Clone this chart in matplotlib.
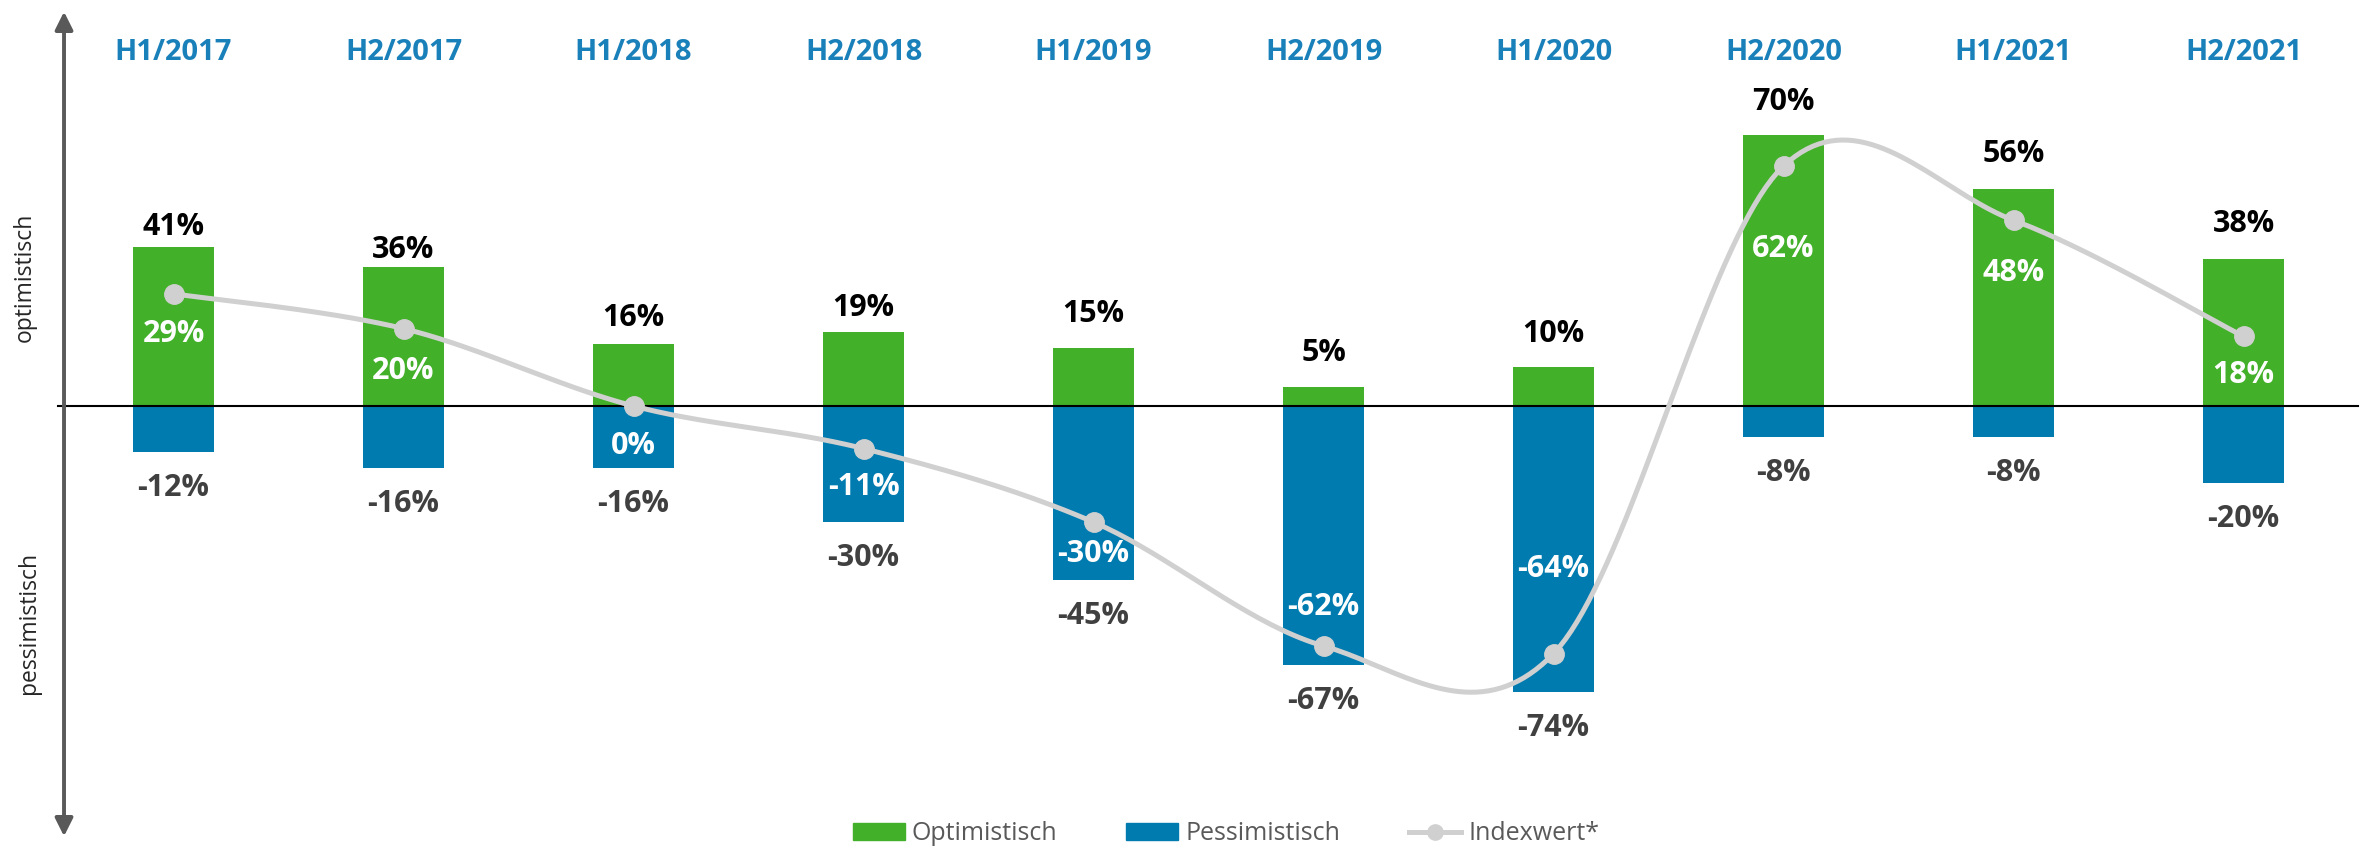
import numpy as np
import matplotlib
matplotlib.use("Agg")
import matplotlib.pyplot as plt
from matplotlib.patches import FancyArrowPatch, Patch
from matplotlib.lines import Line2D

plt.rcParams['font.family'] = ['Open Sans', 'DejaVu Sans']

# Daten
perioden = ["H1/2017", "H2/2017", "H1/2018", "H2/2018", "H1/2019",
            "H2/2019", "H1/2020", "H2/2020", "H1/2021", "H2/2021"]
optimistisch = [41, 36, 16, 19, 15, 5, 10, 70, 56, 38]
pessimistisch = [-12, -16, -16, -30, -45, -67, -74, -8, -8, -20]
indexwert = [29, 20, 0, -11, -30, -62, -64, 62, 48, 18]

# Label-Abstände (Pixel)
off_oben = [20, 17, 26, 24, 34, 34, 33, 33, 35, 35]
off_index = [-40, -42, -40, -38, -32, 39, 85, -83, -53, -39]
off_unten = -36

GRUEN = "#43B02A"
BLAU = "#007BB0"
LINIE = "#D0D0D0"
KAT = "#1A80BA"


def glatt(xs, ys, n=40):
    # Bezier-Glättung wie in Excel (Catmull-Rom)
    p = np.column_stack([xs, ys]).astype(float)
    p = np.vstack([p[0], p, p[-1]])
    out = []
    t = np.linspace(0, 1, n)[:, None]
    for i in range(1, len(p) - 2):
        p0, p1, p2, p3 = p[i - 1], p[i], p[i + 1], p[i + 2]
        c1 = p1 + (p2 - p0) / 6
        c2 = p2 - (p3 - p1) / 6
        seg = ((1 - t) ** 3) * p1 + 3 * ((1 - t) ** 2) * t * c1 + 3 * (1 - t) * t ** 2 * c2 + t ** 3 * p2
        out.append(seg if i == 1 else seg[1:])
    out = np.vstack(out)
    return out[:, 0], out[:, 1]


fig = plt.figure(figsize=(23.67, 8.48), dpi=100)
ax = fig.add_axes([0, 0, 1, 1])
ax.axis('off')
ax.set_xlim(-173.5 / 230, (2367 - 173.5) / 230)
ax.set_ylim(-442 / 3.87, 406 / 3.87)

x = np.arange(len(perioden))
b = 0.352
ax.bar(x, optimistisch, width=b, color=GRUEN, zorder=2)
ax.bar(x, pessimistisch, width=b, color=BLAU, zorder=2)

ax.plot([-0.502, 9.498], [0, 0], color='black', lw=1.5, zorder=3)

gx, gy = glatt(x, indexwert)
ax.plot(gx, gy, color=LINIE, lw=3.6, zorder=4, solid_capstyle='round')
ax.plot(x, indexwert, 'o', color=LINIE, ms=14, zorder=5)

pfeil = FancyArrowPatch((-0.476, -111.9), (-0.476, 102.6),
                        arrowstyle='<|-|>,head_length=0.6,head_width=0.3',
                        mutation_scale=18, color='#595959', lw=2.8, zorder=3)
ax.add_patch(pfeil)

for i in range(len(perioden)):
    ax.text(i, 1 - 52 / 848, perioden[i], transform=ax.get_xaxis_transform(),
            ha='center', va='center', fontsize=21, fontweight='bold', color=KAT)
    ax.annotate(f"{optimistisch[i]}%", (i, optimistisch[i]), xytext=(0, off_oben[i]),
                textcoords='offset pixels', ha='center', va='center',
                fontsize=22, fontweight='bold', color='black', zorder=6)
    ax.annotate(f"{pessimistisch[i]}%", (i, pessimistisch[i]), xytext=(0, off_unten),
                textcoords='offset pixels', ha='center', va='center',
                fontsize=22, fontweight='bold', color='#404040', zorder=6)
    ax.annotate(f"{indexwert[i]}%", (i, indexwert[i]), xytext=(0, off_index[i]),
                textcoords='offset pixels', ha='center', va='center',
                fontsize=22, fontweight='bold', color='white', zorder=6)

fig.text(25 / 2367, 1 - 277 / 848, "optimistisch", rotation=90,
         ha='center', va='center', fontsize=16.5, color='#262626')
fig.text(29 / 2367, 1 - 623 / 848, "pessimistisch", rotation=90,
         ha='center', va='center', fontsize=16.5, color='#262626')

griffe = [Patch(color=GRUEN), Patch(color=BLAU),
          Line2D([], [], color=LINIE, lw=3.6, marker='o', ms=11)]
namen = ["Optimistisch", "Pessimistisch", "Indexwert*"]
fig.legend(griffe, namen, loc='center', bbox_to_anchor=(1226 / 2367, 1 - 834 / 848),
           ncol=3, frameon=False, handlelength=2.08, handleheight=0.64,
           handletextpad=0.28, columnspacing=2.76, borderpad=0, borderaxespad=0,
           prop={'size': 18}, labelcolor='#595959')

fig.savefig("out.png", dpi=100)
